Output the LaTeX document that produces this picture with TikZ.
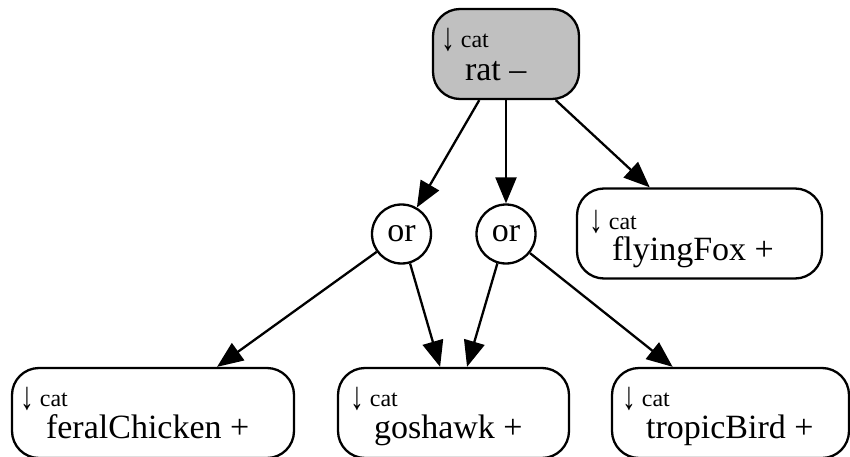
\documentclass[tikz,border=0pt]{standalone}
\usepackage{fontspec}
\setmainfont{Liberation Serif}
\usetikzlibrary{arrows.meta,calc}
\definecolor{ratgray}{RGB}{192,192,192}
\newcommand{\dnarr}{\raisebox{-3pt}{\scalebox{1.15}[1.65]{↓}}}
\tikzset{
  catbox/.style={draw, line width=2.3pt, rounded corners=27pt, inner sep=0pt, minimum height=90pt},
  ornode/.style={draw, circle, line width=2.3pt, inner sep=0pt, minimum size=59pt, font=\fontsize{34}{34}\selectfont},
  smalltxt/.style={anchor=base west, inner sep=0pt, font=\fontsize{24}{24}\selectfont},
  maintxt/.style={anchor=base west, inner sep=0pt, font=\fontsize{34}{34}\selectfont},
  conn/.style={line width=2.3pt, -{Triangle[length=26pt,width=21pt]}}
}
\begin{document}
\begin{tikzpicture}[x=1pt,y=-1pt]
\useasboundingbox (0,0) rectangle (850,457);
% boxes
\node[catbox, fill=ratgray, minimum width=146pt] (rat) at (506,54) {};
\node[catbox, minimum width=245pt] (flyingFox) at (699.5,233.5) {};
\node[catbox, minimum width=282pt] (feralChicken) at (153,413) {};
\node[catbox, minimum width=231pt] (goshawk) at (453.5,413) {};
\node[catbox, minimum width=237pt] (tropicBird) at (730.5,413) {};
\node[ornode] (or1) at (401.5,234) {or};
\node[ornode] (or2) at (506,234) {or};
% labels
\node[smalltxt] (ratc) at ($(rat.north west)+(9,40)$) {\dnarr{} cat};
\node[maintxt] (ratm) at ($(rat.north west)+(33,73)$) {rat –};
\node[smalltxt] (ffc) at ($(flyingFox.north west)+(13,42)$) {\dnarr{} cat};
\node[maintxt] (ffm) at ($(flyingFox.north west)+(36,73)$) {flyingFox +};
\node[smalltxt] (fcc) at ($(feralChicken.north west)+(9,40)$) {\dnarr{} cat};
\node[maintxt] (fcm) at ($(feralChicken.north west)+(35,72)$) {feralChicken +};
\node[smalltxt] (ghc) at ($(goshawk.north west)+(13,40)$) {\dnarr{} cat};
\node[maintxt] (ghm) at ($(goshawk.north west)+(37,72)$) {goshawk +};
\node[smalltxt] (tbc) at ($(tropicBird.north west)+(11,40)$) {\dnarr{} cat};
\node[maintxt] (tbm) at ($(tropicBird.north west)+(35,72)$) {tropicBird +};
% connectors
\draw[conn] (rat) -- (or1);
\draw[conn] (rat) -- (or2);
\draw[conn] (rat) -- (flyingFox);
\draw[conn] (or1) -- (feralChicken);
\draw[conn] (or1) -- (goshawk);
\draw[conn] (or2) -- (goshawk);
\draw[conn] (or2) -- (tropicBird);
\end{tikzpicture}
\end{document}
